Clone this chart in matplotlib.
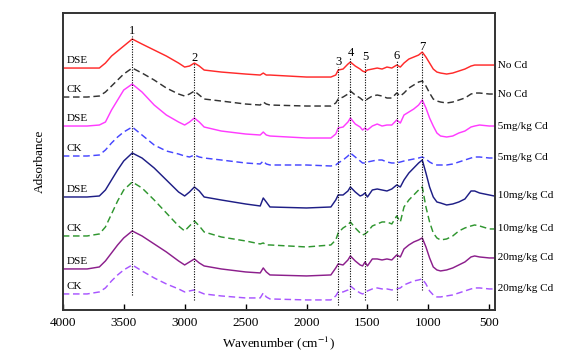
import numpy as np
import matplotlib
matplotlib.use("Agg")
import matplotlib.pyplot as plt

plt.rcParams['font.family'] = ['Liberation Serif', 'DejaVu Serif']
plt.rcParams['mathtext.fontset'] = 'stix'

# wavenumber grid (cm-1) the spectra were read at
wn = [4000, 3800, 3700, 3650, 3600, 3550, 3500, 3430, 3350, 3250, 3150, 3050,
      3000, 2960, 2920, 2880, 2840, 2700, 2500, 2380, 2355, 2330, 2300, 2000,
      1800, 1760, 1740, 1700, 1660, 1640, 1600, 1560, 1540, 1520, 1500, 1460,
      1420, 1380, 1340, 1300, 1260, 1230, 1200, 1160, 1120, 1080, 1050, 1020,
      990, 960, 930, 900, 850, 800, 750, 700, 650, 620, 580, 500, 460]

# stacked absorbance, x0.01 a.u.
dse_0 = [242, 242, 242, 247, 254, 259, 264, 271, 266, 260, 254, 247, 243, 244, 247, 244,
         240, 238, 236, 235, 237, 235, 235, 233, 233, 235, 240, 241, 246, 248, 244, 241,
         239, 238, 240, 241, 242, 241, 243, 242, 245, 243, 247, 251, 253, 255, 258, 253,
         247, 241, 238, 237, 236, 237, 239, 241, 244, 245, 245, 245, 245]
ck_0 = [213, 213, 214, 218, 224, 230, 236, 242, 237, 230, 222, 216, 214, 216, 219, 215,
        211, 209, 206, 205, 208, 206, 205, 204, 204, 207, 211, 213, 216, 219, 215, 212,
        210, 209, 211, 214, 215, 214, 212, 212, 217, 214, 217, 222, 225, 228, 229, 224,
        217, 211, 209, 208, 207, 208, 210, 212, 216, 217, 217, 216, 216]
dse_5 = [184, 184, 185, 188, 200, 210, 220, 226, 218, 205, 195, 188, 185, 188, 192, 188,
         183, 179, 176, 175, 178, 175, 174, 172, 172, 176, 182, 183, 188, 192, 186, 183,
         180, 182, 180, 184, 186, 184, 185, 185, 190, 187, 195, 198, 201, 205, 210, 202,
         192, 184, 177, 174, 173, 174, 177, 179, 183, 184, 185, 184, 184]
ck_5 = [154, 154, 155, 160, 167, 173, 178, 183, 175, 165, 159, 156, 154, 153, 155, 153,
        152, 150, 147, 146, 149, 146, 145, 145, 144, 145, 147, 150, 154, 157, 153, 149,
        147, 147, 148, 149, 150, 150, 148, 147, 147, 148, 149, 150, 151, 152, 153, 151,
        148, 146, 145, 145, 145, 146, 148, 150, 152, 153, 153, 152, 152]
dse_10 = [113, 113, 114, 120, 130, 140, 149, 157, 152, 142, 130, 118, 114, 118, 123, 119,
          113, 110, 106, 104, 112, 108, 103, 102, 103, 110, 115, 115, 119, 123, 118, 114,
          115, 117, 113, 120, 121, 120, 119, 121, 125, 123, 130, 137, 142, 147, 150, 137,
          123, 113, 108, 107, 105, 106, 108, 111, 119, 119, 117, 115, 114]
ck_10 = [74, 74, 76, 83, 96, 109, 120, 128, 122, 110, 97, 84, 79, 84, 89, 84,
         78, 73, 69, 66, 67, 65, 65, 63, 65, 70, 77, 82, 85, 88, 82, 77,
         75, 76, 78, 84, 86, 88, 88, 86, 94, 88, 103, 110, 115, 120, 123, 103,
         88, 77, 72, 70, 71, 74, 79, 82, 84, 85, 84, 81, 81]
dse_20 = [41, 41, 43, 49, 57, 65, 72, 79, 74, 66, 58, 49, 45, 48, 51, 47,
          44, 41, 38, 37, 42, 38, 35, 34, 35, 42, 46, 45, 50, 54, 49, 45,
          44, 48, 44, 51, 51, 50, 51, 50, 55, 53, 61, 65, 68, 70, 72, 63,
          52, 43, 40, 39, 40, 42, 45, 48, 53, 54, 53, 52, 52]
ck_20 = [16, 16, 18, 22, 29, 35, 40, 45, 39, 32, 26, 21, 18, 19, 20, 18,
         16, 14, 12, 12, 17, 13, 11, 10, 10, 14, 18, 18, 20, 24, 20, 17,
         16, 17, 19, 21, 22, 21, 21, 20, 21, 22, 25, 27, 29, 30, 31, 26,
         19, 15, 13, 13, 14, 15, 17, 19, 21, 22, 22, 21, 21]

series = [dse_0, ck_0, dse_5, ck_5, dse_10, ck_10, dse_20, ck_20]
groups = ['DSE', 'CK', 'DSE', 'CK', 'DSE', 'CK', 'DSE', 'CK']
treatments = ['No Cd', 'No Cd', '5mg/kg Cd', '5mg/kg Cd',
              '10mg/kg Cd', '10mg/kg Cd', '20mg/kg Cd', '20mg/kg Cd']

peak_wn = [3430, 2920, 1740, 1640, 1520, 1257, 1050]
peak_names = ['1', '2', '3', '4', '5', '6', '7']

colors = ['#ff2a2a', '#333333', '#ff3cff', '#4646ff',
          '#1e1e86', '#2f962f', '#8c1f8c', '#a855ff']

# layout for the marker lines (a.u.): top / bottom of each dotted line
line_top = [2.74, 2.47, 2.43, 2.52, 2.48, 2.49, 2.58]
line_bot = [0.15, 0.10, 0.05, 0.13, 0.10, 0.10, 0.20]

fig = plt.figure(figsize=(5.76, 3.53), dpi=100)
ax = fig.add_axes([0.109, 0.122, 0.750, 0.841])

x = np.array(wn)
for i, s in enumerate(series):
    y = np.array(s) / 100.0
    if groups[i] == 'CK':
        ax.plot(x, y, color=colors[i], lw=1.05, dashes=(4.5, 2.5))
    else:
        ax.plot(x, y, color=colors[i], lw=1.05)
    ax.text(3970, y[0] + 0.075, groups[i], fontsize=8, ha='left', va='center')
    ax.text(455, y[-1], ' ' + treatments[i], fontsize=8, ha='left',
            va='center', clip_on=False)

for k in range(len(peak_wn)):
    ax.plot([peak_wn[k], peak_wn[k]], [line_bot[k], line_top[k]],
            color='black', lw=0.8, linestyle=(0, (1, 1.3)))
    ax.text(peak_wn[k], line_top[k] + 0.05, peak_names[k], fontsize=9,
            ha='center', va='center')

ax.set_xlim(4000, 455)
ax.set_ylim(0, 2.97)
ax.set_xticks([4000, 3500, 3000, 2500, 2000, 1500, 1000, 500])
ax.set_yticks([])
ax.tick_params(axis='x', direction='in', length=4, width=1.0, labelsize=9.5, pad=5)
for sp in ax.spines.values():
    sp.set_color('#333333')
    sp.set_linewidth(1.4)
ax.set_xlabel('Wavenumber (cm$^{-1}$)', fontsize=9.5, labelpad=4)
ax.set_ylabel('Adsorbance', fontsize=9.5, labelpad=12)

fig.savefig('out.png', dpi=100)
